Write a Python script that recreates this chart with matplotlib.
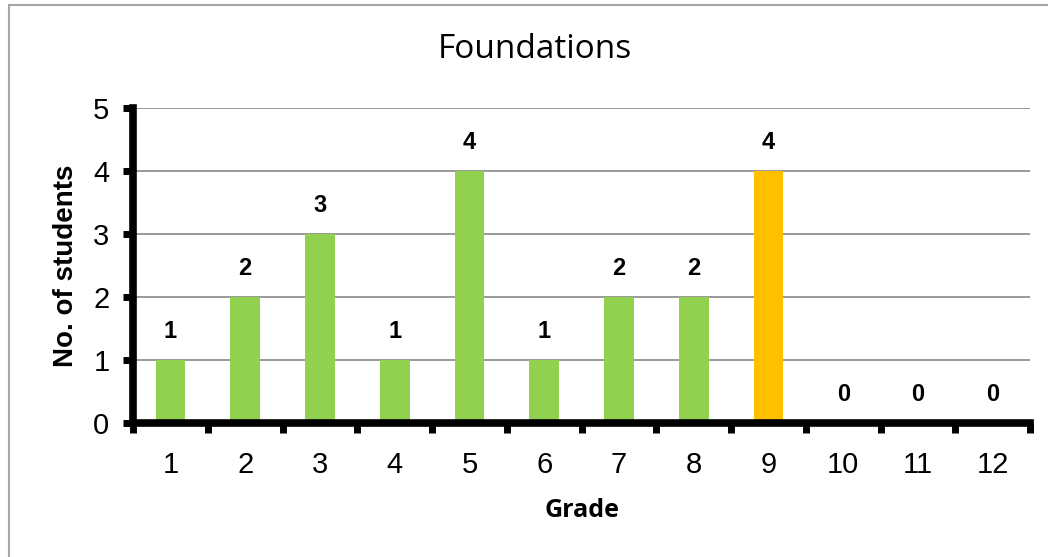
import matplotlib.pyplot as plt
from matplotlib.patches import Rectangle
import numpy as np

grades = ["1", "2", "3", "4", "5", "6", "7", "8", "9", "10", "11", "12"]
students = [1, 2, 3, 1, 4, 1, 2, 2, 4, 0, 0, 0]
colors = ["#92D050"] * 8 + ["#FFC000"] + ["#92D050"] * 3

plt.rcParams['font.family'] = ['Liberation Sans', 'DejaVu Sans']

fig = plt.figure(figsize=(10.48, 5.57), dpi=100)
ax = fig.add_axes([0.127, 0.2406, 0.856, 0.5654])

# outer chart border
fig.patches.append(Rectangle((9 / 1048, -0.05), 1.2, 1 - 5 / 557 + 0.05,
                             transform=fig.transFigure, fill=False,
                             edgecolor="#a6a6a6", linewidth=1.5))

x = np.arange(1, len(grades) + 1)
ax.bar(x, students, width=0.4, color=colors, zorder=3)

for xi, v in zip(x, students):
    ax.annotate(str(v), (xi, v), xytext=(0, 12), textcoords="offset points",
                ha="center", va="bottom", fontsize=17, fontweight="bold")

ax.set_xlim(0.5, 12.5)
ax.set_ylim(0, 5)
ax.set_yticks(range(6))
ax.set_xticks(np.arange(0.5, 13, 1))
ax.set_xticklabels([])
ax.set_xticks(x, minor=True)
ax.set_xticklabels(grades, minor=True)

ax.tick_params(axis="x", which="major", length=7, width=5, direction="out")
ax.tick_params(axis="x", which="minor", length=0, pad=20, labelsize=21)
ax.tick_params(axis="y", length=7, width=5, direction="out", pad=10, labelsize=21)

for s in ["top", "right"]:
    ax.spines[s].set_visible(False)
for s in ["left", "bottom"]:
    ax.spines[s].set_linewidth(5.5)
    ax.spines[s].set_zorder(4)

for yv in range(1, 6):
    ax.axhline(yv, color="#888888", linewidth=1.2, zorder=1)

fig.text(535 / 1048, 1 - 50 / 557, "Foundations", fontsize=24,
         family=["Open Sans", "DejaVu Sans"], ha="center", va="center")
ax.set_xlabel("Grade", fontsize=18, fontweight="bold",
              family=["Open Sans", "DejaVu Sans"], labelpad=14)
ax.set_ylabel("No. of students", fontsize=20, fontweight="bold", labelpad=10)

fig.savefig("out.png", dpi=100)
plt.close(fig)
